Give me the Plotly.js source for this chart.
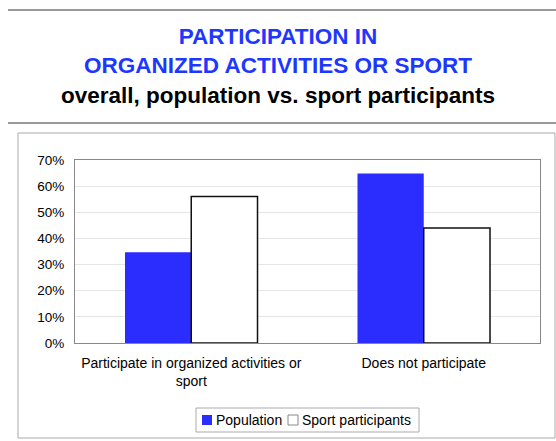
<!DOCTYPE html>
<html>
<head>
<meta charset="utf-8">
<script src="https://cdn.plot.ly/plotly-3.0.1.min.js"></script>
<style>html,body{margin:0;padding:0;background:#fff;}#chart{width:556px;height:441px;}</style>
</head>
<body>
<div id="chart"></div>
<script>
var categories = ["Participate in organized activities or<br>sport", "Does not participate"];
var populationValues = [0.347, 0.648];
var sportValues = [0.56, 0.44];
var seriesNames = ["Population", "Sport participants"];
var tickValues = [0, 0.1, 0.2, 0.3, 0.4, 0.5, 0.6, 0.7];

var blue = "rgb(43,45,255)";
var font = "Liberation Sans, Arial, sans-serif";

// pixel -> paper helpers (plot area: x 75..540, y 160..343)
function px(x) { return (x - 75) / 465; }
function py(y) { return (343 - y) / 183; }

var traces = [
  {type: "bar", name: seriesNames[0], x: categories, y: populationValues,
   marker: {color: blue, line: {color: blue, width: 0}}, hoverinfo: "none", showlegend: false},
  {type: "bar", name: seriesNames[1], x: categories, y: sportValues,
   marker: {color: "#ffffff", line: {color: "#111111", width: 1.5}}, hoverinfo: "none", showlegend: false}
];

var legendShapes = [
  {type: "rect", xref: "paper", yref: "paper", x0: px(196), x1: px(419), y0: py(432), y1: py(408),
   line: {color: "#aaa", width: 1}, fillcolor: "#fff"},
  {type: "rect", xref: "paper", yref: "paper", x0: px(202), x1: px(212), y0: py(425), y1: py(415),
   line: {color: blue, width: 0}, fillcolor: blue},
  {type: "rect", xref: "paper", yref: "paper", x0: px(288), x1: px(298), y0: py(425), y1: py(415),
   line: {color: "#888", width: 1}, fillcolor: "#fff"}
];
var legendAnnotations = [
  {xref: "paper", yref: "paper", x: px(214), y: py(420), xanchor: "left", yanchor: "middle",
   text: seriesNames[0], showarrow: false, font: {family: font, size: 14, color: "#000"}},
  {xref: "paper", yref: "paper", x: px(300), y: py(420), xanchor: "left", yanchor: "middle",
   text: seriesNames[1], showarrow: false, font: {family: font, size: 14, color: "#000"}}
];

var layout = {
  width: 556, height: 441,
  margin: {l: 75, r: 16, t: 160, b: 98},
  paper_bgcolor: "#ffffff", plot_bgcolor: "#ffffff",
  font: {family: font, size: 14, color: "#000"},
  barmode: "group", bargap: 0.43, bargroupgap: 0,
  showlegend: false,
  title: {
    text: "<span style='color:rgb(30,55,255)'>PARTICIPATION IN<br>ORGANIZED ACTIVITIES OR SPORT</span><br>overall, population vs. sport participants",
    font: {family: font, size: 22.5, color: "#000", weight: "bold"},
    x: 0.5, xanchor: "center", xref: "container",
    y: 1 - 44/441, yanchor: "top", yref: "container"
  },
  xaxis: {
    showline: true, linecolor: "#888", linewidth: 1, mirror: true,
    ticks: "", ticklabelstandoff: 7, tickfont: {family: font, size: 14, color: "#000"},
    showgrid: false, fixedrange: true, automargin: false
  },
  yaxis: {
    range: [0, 0.7], tickvals: tickValues, tickformat: ".0%",
    showline: true, linecolor: "#888", linewidth: 1, mirror: true,
    gridcolor: "#e6e6e6", gridwidth: 1, zeroline: false,
    ticks: "", ticklabelstandoff: 7, automargin: false,
    tickfont: {family: font, size: 13.5, color: "#000"}, fixedrange: true
  },
  annotations: legendAnnotations,
  shapes: [
    {type: "line", xref: "paper", yref: "paper", x0: px(8), x1: px(556), y0: py(10), y1: py(10),
     line: {color: "#999", width: 2}},
    {type: "line", xref: "paper", yref: "paper", x0: px(8), x1: px(556), y0: py(123), y1: py(123),
     line: {color: "#999", width: 2}},
    {type: "rect", xref: "paper", yref: "paper", x0: px(18), x1: px(555), y0: py(438), y1: py(133),
     line: {color: "#aaa", width: 1}, fillcolor: "rgba(0,0,0,0)", layer: "below"}
  ].concat(legendShapes)
};

Plotly.newPlot("chart", traces, layout, {displayModeBar: false, staticPlot: true});
</script>
</body>
</html>
